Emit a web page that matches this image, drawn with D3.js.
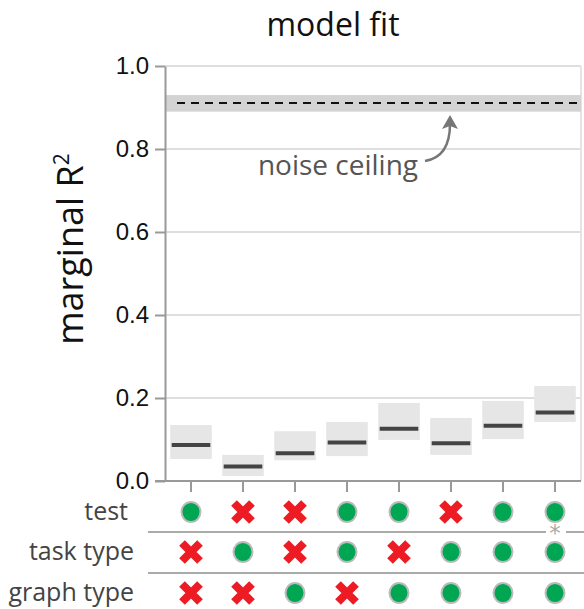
<!DOCTYPE html>
<html lang="en">
<head>
    <meta charset="UTF-8">
    <style>
        body { margin: 0; background: #fff; }
        .grid line { stroke: #dedede; stroke-width: 2px; }
        .axis path, .axis line { stroke: #999; stroke-width: 2px; }
    </style>
    <title>model fit</title>
</head>
<body>
<script src="https://d3js.org/d3.v7.min.js" charset="utf-8"></script>
<script>
    // model fit estimates (median + interval), one per model
    var models = [0, 1, 2, 3, 4, 5, 6, 7];
    var medians = [0.087, 0.035, 0.067, 0.093, 0.126, 0.091, 0.133, 0.165];
    var lower = [0.053, 0.012, 0.050, 0.060, 0.099, 0.063, 0.101, 0.142];
    var upper = [0.135, 0.063, 0.120, 0.142, 0.188, 0.152, 0.193, 0.229];

    var ceilingLo = 0.89, ceilingMid = 0.911, ceilingHi = 0.93;

    var yTicks = [0.0, 0.2, 0.4, 0.6, 0.8, 1.0];

    // which predictors each model includes (1 = included)
    var features = ['test', 'task type', 'graph type'];
    var testIn = [1, 0, 0, 1, 1, 0, 1, 1];
    var taskIn = [0, 1, 0, 1, 0, 1, 1, 1];
    var graphIn = [0, 0, 1, 0, 1, 1, 1, 1];

    var width = 584, height = 609;
    var margin = {left: 165, top: 66, right: 3, bottom: 128};
    var sans = '"Open Sans", "Noto Sans", sans-serif';

    var svg = d3.select('body').append('svg').attr('width', width).attr('height', height);

    var x = d3.scaleBand()
        .domain(models)
        .range([margin.left, width - margin.right])
        .paddingInner(0.2)
        .paddingOuter(0.1);

    var y = d3.scaleLinear()
        .domain([0, 1])
        .range([height - margin.bottom, margin.top]);

    // grid
    svg.append('g').attr('class', 'grid')
        .selectAll('line')
        .data(yTicks.slice(1))
        .enter()
        .append('line')
        .attr('x1', margin.left)
        .attr('x2', width - margin.right)
        .attr('y1', function (d) { return y(d); })
        .attr('y2', function (d) { return y(d); });

    svg.append('line')
        .attr('x1', width - margin.right).attr('x2', width - margin.right)
        .attr('y1', y(1)).attr('y2', y(0))
        .attr('stroke', '#e4e4e4').attr('stroke-width', 2);

    // noise ceiling
    svg.append('rect')
        .attr('x', margin.left)
        .attr('width', width - margin.right - margin.left)
        .attr('y', y(ceilingHi))
        .attr('height', y(ceilingLo) - y(ceilingHi))
        .attr('fill', '#d3d3d3');

    svg.append('line')
        .attr('x1', margin.left + 12)
        .attr('x2', width - margin.right)
        .attr('y1', y(ceilingMid))
        .attr('y2', y(ceilingMid))
        .attr('stroke', '#111')
        .attr('stroke-width', 2)
        .attr('stroke-dasharray', '8,6');

    // intervals
    svg.append('g').selectAll('rect')
        .data(models)
        .enter()
        .append('rect')
        .attr('x', function (d) { return x(d); })
        .attr('width', x.bandwidth())
        .attr('y', function (d, i) { return y(upper[i]); })
        .attr('height', function (d, i) { return y(lower[i]) - y(upper[i]); })
        .attr('fill', '#e6e6e6');

    svg.append('g').selectAll('line')
        .data(models)
        .enter()
        .append('line')
        .attr('x1', function (d) { return x(d) + 1.5; })
        .attr('x2', function (d) { return x(d) + x.bandwidth() - 1.5; })
        .attr('y1', function (d, i) { return y(medians[i]); })
        .attr('y2', function (d, i) { return y(medians[i]); })
        .attr('stroke', '#444')
        .attr('stroke-width', 4);

    // axes
    var yAxis = svg.append('g').attr('class', 'axis')
        .attr('transform', 'translate(' + margin.left + ',0)')
        .call(d3.axisLeft(y).tickValues(yTicks).tickFormat(d3.format('.1f')).tickSize(10).tickSizeOuter(0));
    yAxis.selectAll('text')
        .attr('x', -16)
        .style('font-family', '"Liberation Sans", Arial, sans-serif')
        .style('font-size', '24px')
        .attr('fill', '#111');

    var xAxis = svg.append('g').attr('class', 'axis')
        .attr('transform', 'translate(0,' + y(0) + ')')
        .call(d3.axisBottom(x).tickSize(11).tickSizeOuter(0).tickFormat(''));
    xAxis.select('.domain').attr('d', 'M' + (margin.left - 10) + ',0H' + (width - margin.right));

    // titles
    svg.append('text')
        .attr('x', 333).attr('y', 36)
        .attr('text-anchor', 'middle')
        .style('font-family', sans)
        .style('font-size', '32px')
        .attr('fill', '#111')
        .text('model fit');

    var yLab = svg.append('text')
        .attr('transform', 'translate(83,' + 249 + ') rotate(-90)')
        .attr('text-anchor', 'middle')
        .style('font-family', sans)
        .style('font-size', '36px')
        .attr('fill', '#111');
    yLab.append('tspan').text('marginal R');
    yLab.append('tspan').attr('dy', -14).style('font-size', '21px').text('2');

    // noise ceiling annotation
    svg.append('text')
        .attr('x', 338).attr('y', 175)
        .attr('text-anchor', 'middle')
        .style('font-family', sans)
        .style('font-size', '28px')
        .attr('fill', '#555')
        .text('noise ceiling');

    svg.append('path')
        .attr('d', 'M425,161 Q450,157 450,124')
        .attr('fill', 'none')
        .attr('stroke', '#777')
        .attr('stroke-width', 2.5);
    svg.append('path')
        .attr('d', 'M450,115 L458,129 L450,126 L442,129 Z')
        .attr('fill', '#777');

    // predictor matrix
    var rowY = [512, 552, 593];
    var included = [testIn, taskIn, graphIn];

    svg.append('g').selectAll('text')
        .data(features)
        .enter()
        .append('text')
        .attr('x', function (d, i) { return i === 0 ? 128 : 134; })
        .attr('y', function (d, i) { return rowY[i] + 8; })
        .attr('text-anchor', 'end')
        .style('font-family', sans)
        .style('font-size', '25px')
        .attr('fill', '#444')
        .text(function (d) { return d; });

    // separators
    svg.append('line')
        .attr('x1', 148).attr('x2', 546).attr('y1', 532).attr('y2', 532)
        .attr('stroke', '#aaa').attr('stroke-width', 2);
    svg.append('line')
        .attr('x1', 566).attr('x2', width).attr('y1', 532).attr('y2', 532)
        .attr('stroke', '#aaa').attr('stroke-width', 2);
    svg.append('line')
        .attr('x1', 148).attr('x2', width).attr('y1', 573).attr('y2', 573)
        .attr('stroke', '#aaa').attr('stroke-width', 2);
    svg.append('text')
        .attr('x', x(7) + x.bandwidth() / 2).attr('y', 541)
        .attr('text-anchor', 'middle')
        .style('font-family', '"DejaVu Sans", sans-serif')
        .style('font-size', '23px')
        .attr('fill', '#aaa')
        .text('*');

    included.forEach(function (row, r) {
        var g = svg.append('g');
        row.forEach(function (v, i) {
            var cx = x(models[i]) + x.bandwidth() / 2;
            var cy = rowY[r];
            if (v) {
                g.append('ellipse')
                    .attr('cx', cx).attr('cy', cy)
                    .attr('rx', 9.5).attr('ry', 10)
                    .attr('fill', '#00a651')
                    .attr('stroke', '#bbb')
                    .attr('stroke-width', 2);
            } else {
                g.append('path')
                    .attr('d', 'M' + (cx - 9) + ',' + (cy - 9) + 'L' + (cx + 9) + ',' + (cy + 9) +
                        'M' + (cx + 9) + ',' + (cy - 9) + 'L' + (cx - 9) + ',' + (cy + 9))
                    .attr('stroke', '#ed1c24')
                    .attr('stroke-width', 8);
            }
        });
    });
</script>
</body>
</html>
